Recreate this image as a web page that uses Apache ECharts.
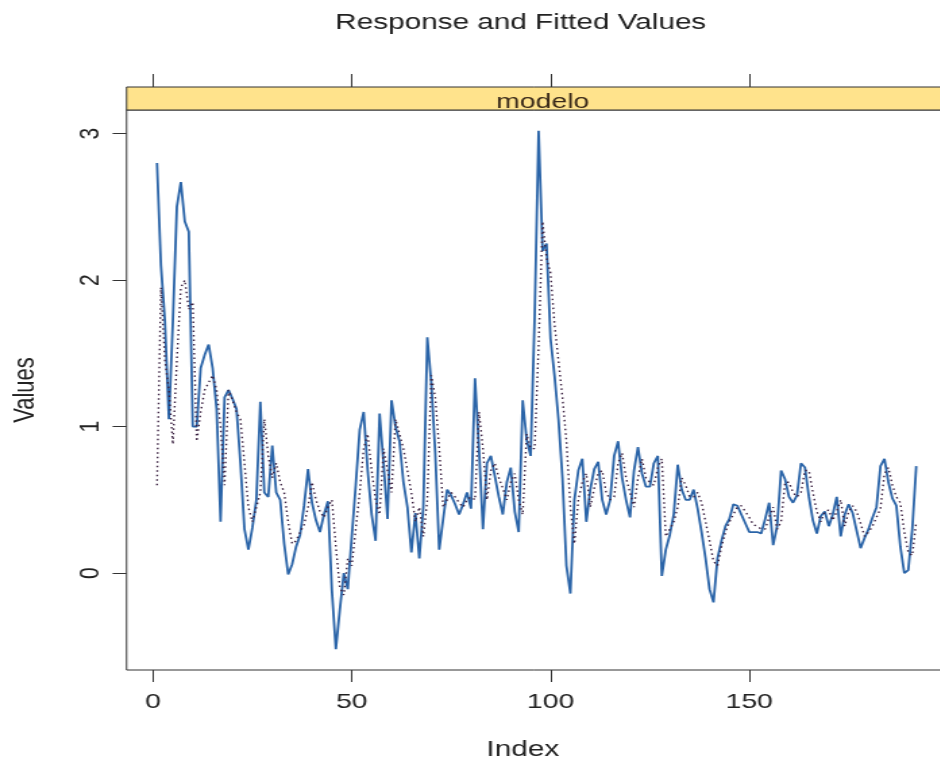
<!DOCTYPE html>
<html><head><meta charset="utf-8">
<script src="https://cdn.jsdelivr.net/npm/echarts@6/dist/echarts.min.js"></script>
<style>
html,body{margin:0;padding:0;background:#fff;overflow:hidden;width:940px;height:760px}
#wrap{width:940px;height:760px;overflow:hidden;position:relative}
#chart{position:absolute;left:0;top:0;height:760px;transform-origin:0 0}
</style></head><body><div id="wrap"><div id="chart"></div></div>
<script>
const indexValues = Array.from({length: 192}, (_, k) => k + 1);
const response = [
 2.80, 2.10, 1.72, 1.05, 1.72, 2.50, 2.67, 2.40, 2.33, 1.00,
 1.00, 1.40, 1.49, 1.56, 1.40, 1.12, 0.35, 1.20, 1.25, 1.19,
 1.12, 0.75, 0.30, 0.16, 0.31, 0.50, 1.17, 0.55, 0.52, 0.87,
 0.55, 0.50, 0.20, -0.01, 0.06, 0.18, 0.26, 0.46, 0.71, 0.48,
 0.36, 0.28, 0.40, 0.49, -0.12, -0.52, -0.25, 0.00, -0.11, 0.25,
 0.60, 0.98, 1.10, 0.70, 0.40, 0.22, 1.09, 0.75, 0.37, 1.18,
 1.00, 0.90, 0.62, 0.45, 0.14, 0.41, 0.10, 0.45, 1.61, 1.30,
 0.82, 0.16, 0.37, 0.57, 0.53, 0.47, 0.40, 0.47, 0.55, 0.44,
 1.33, 0.85, 0.30, 0.75, 0.80, 0.66, 0.52, 0.40, 0.62, 0.72,
 0.42, 0.28, 1.18, 0.91, 0.80, 1.75, 3.02, 2.20, 2.25, 1.60,
 1.35, 1.05, 0.65, 0.05, -0.14, 0.50, 0.70, 0.78, 0.35, 0.57,
 0.71, 0.76, 0.50, 0.40, 0.50, 0.80, 0.90, 0.65, 0.50, 0.38,
 0.70, 0.86, 0.68, 0.59, 0.59, 0.75, 0.80, -0.02, 0.16, 0.26,
 0.40, 0.74, 0.57, 0.50, 0.50, 0.57, 0.44, 0.28, 0.10, -0.11,
 -0.20, 0.10, 0.22, 0.32, 0.37, 0.47, 0.46, 0.40, 0.34, 0.28,
 0.28, 0.28, 0.27, 0.37, 0.48, 0.19, 0.32, 0.70, 0.64, 0.52,
 0.48, 0.53, 0.75, 0.72, 0.52, 0.36, 0.27, 0.39, 0.42, 0.32,
 0.40, 0.52, 0.25, 0.40, 0.47, 0.41, 0.29, 0.17, 0.24, 0.30,
 0.38, 0.45, 0.73, 0.78, 0.62, 0.51, 0.46, 0.18, 0.00, 0.02,
 0.30, 0.73
];
const fitted = [
 0.60, 1.95, 1.45, 1.25, 0.88, 1.45, 1.95, 2.00, 1.80, 1.85,
 0.90, 1.10, 1.25, 1.30, 1.35, 1.25, 1.00, 0.60, 1.25, 1.18,
 1.10, 1.05, 0.75, 0.45, 0.35, 0.45, 0.55, 1.05, 0.80, 0.65,
 0.75, 0.62, 0.55, 0.35, 0.20, 0.22, 0.28, 0.33, 0.45, 0.62,
 0.50, 0.42, 0.38, 0.45, 0.50, 0.18, -0.10, -0.15, 0.10, 0.05,
 0.30, 0.55, 0.85, 0.95, 0.70, 0.50, 0.40, 0.85, 0.70, 0.55,
 1.05, 0.95, 0.85, 0.70, 0.55, 0.35, 0.45, 0.25, 0.50, 1.35,
 1.20, 0.85, 0.45, 0.50, 0.55, 0.52, 0.48, 0.45, 0.50, 0.52,
 0.50, 1.10, 0.85, 0.50, 0.70, 0.75, 0.65, 0.58, 0.50, 0.62,
 0.68, 0.50, 0.40, 0.95, 0.85, 0.85, 1.55, 2.40, 2.15, 2.05,
 1.70, 1.45, 1.20, 0.90, 0.45, 0.20, 0.50, 0.62, 0.68, 0.45,
 0.58, 0.68, 0.70, 0.55, 0.50, 0.52, 0.75, 0.82, 0.65, 0.55,
 0.45, 0.65, 0.78, 0.65, 0.62, 0.60, 0.72, 0.78, 0.25, 0.30,
 0.35, 0.45, 0.65, 0.60, 0.52, 0.52, 0.55, 0.48, 0.35, 0.22,
 0.08, 0.05, 0.18, 0.28, 0.35, 0.40, 0.45, 0.46, 0.42, 0.38,
 0.33, 0.32, 0.30, 0.30, 0.38, 0.45, 0.30, 0.35, 0.62, 0.62,
 0.55, 0.52, 0.55, 0.70, 0.70, 0.55, 0.42, 0.35, 0.42, 0.43,
 0.36, 0.42, 0.50, 0.32, 0.42, 0.46, 0.42, 0.34, 0.25, 0.28,
 0.32, 0.38, 0.44, 0.68, 0.72, 0.60, 0.52, 0.48, 0.28, 0.14,
 0.12, 0.35
];
const xTickValues = [0, 50, 100, 150];
const yTickValues = [0, 1, 2, 3];
const panelLabel = 'modelo';
const titleText = 'Response and Fitted Values';
const xLabel = 'Index';
const yLabel = 'Values';

// horizontal stretch of the original image
const S = 1.35;
const W0 = 940 / S;
const el = document.getElementById('chart');
el.style.width = W0 + 'px';
el.style.transform = 'scaleX(' + S + ')';
const px = v => v / S;

const xMin = -6.64, xMax = 199.64, yMin = -0.662, yMax = 3.162;
const gridLeft = px(126.6), gridWidth = px(946.6 - 126.6);
const txt = '#222', ln = '#333';
const FONT = 'Liberation Sans, Arial, sans-serif';

const chart = echarts.init(el, null, {renderer: 'canvas'});
chart.setOption({
  animation: false,
  backgroundColor: '#fff',
  textStyle: {fontFamily: FONT},
  title: [
    {text: titleText, left: px(514), top: 7, textAlign: 'center',
     textStyle: {fontSize: 22, fontWeight: 'normal', color: txt, fontFamily: FONT}},
    {text: xLabel, left: px(516), top: 734, textAlign: 'center',
     textStyle: {fontSize: 22, fontWeight: 'normal', color: txt, fontFamily: FONT}},
    {text: panelLabel, left: px(536), top: 87, textAlign: 'center',
     textStyle: {fontSize: 21, fontWeight: 'normal', color: '#3a2a1a', fontFamily: FONT}}
  ],
  grid: [
    {left: gridLeft, width: gridWidth, top: 110, height: 560, show: true,
     outerBoundsMode: 'none', containLabel: false,
     borderColor: ln, borderWidth: 1, backgroundColor: 'transparent'},
    {left: gridLeft, width: gridWidth, top: 87, height: 23, show: true,
     outerBoundsMode: 'none', containLabel: false,
     borderColor: ln, borderWidth: 1, backgroundColor: '#ffe38c', z: 0}
  ],
  xAxis: [
    {gridIndex: 0, type: 'value', min: xMin, max: xMax, position: 'bottom',
     axisLine: {show: false, onZero: false}, splitLine: {show: false},
     axisTick: {show: true, customValues: xTickValues, length: 12, lineStyle: {color: ln}},
     axisLabel: {customValues: xTickValues, fontSize: 21, color: txt, margin: 22, fontFamily: FONT}},
    {gridIndex: 1, type: 'value', min: xMin, max: xMax, position: 'top',
     axisLine: {show: false, onZero: false}, splitLine: {show: false},
     axisTick: {show: true, customValues: xTickValues, length: 13, lineStyle: {color: ln}},
     axisLabel: {show: false}}
  ],
  yAxis: [
    {gridIndex: 0, type: 'value', min: yMin, max: yMax,
     name: yLabel, nameLocation: 'middle', nameRotate: 90, nameGap: 64,
     nameTextStyle: {fontSize: 22, color: txt, fontFamily: FONT},
     axisLine: {show: false, onZero: false}, splitLine: {show: false},
     axisTick: {show: true, customValues: yTickValues, length: px(14), lineStyle: {color: ln}},
     axisLabel: {customValues: yTickValues, rotate: 90, fontSize: 21, color: txt, margin: 16, fontFamily: FONT}},
    {gridIndex: 1, type: 'value', min: 0, max: 1, show: false}
  ],
  series: [
    {name: 'Response', type: 'line', xAxisIndex: 0, yAxisIndex: 0,
     data: indexValues.map((x, k) => [x, response[k]]),
     symbol: 'none', lineStyle: {color: '#2a64a8', width: 1.8}},
    {name: 'Fitted', type: 'line', xAxisIndex: 0, yAxisIndex: 0,
     data: indexValues.map((x, k) => [x, fitted[k]]),
     symbol: 'none', lineStyle: {color: '#3a2040', width: 1.4, type: [1.5, 3]}}
  ]
});
</script></body></html>
